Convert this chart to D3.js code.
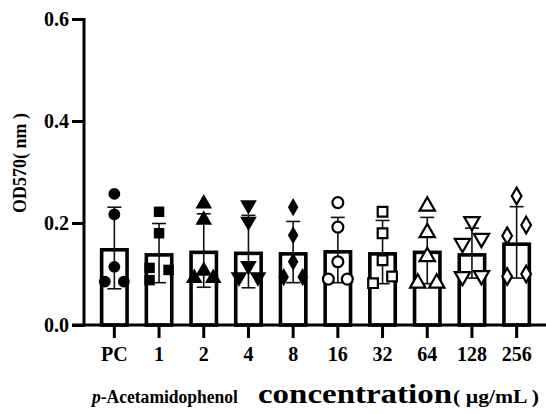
<!DOCTYPE html>
<html>
<head>
<meta charset="utf-8">
<script src="https://cdn.jsdelivr.net/npm/d3@7"></script>
<style>
  body { margin: 0; background: #fff; }
  svg { display: block; }
  text { font-family: "Liberation Serif", "Times New Roman", Tinos, "DejaVu Serif", serif; font-weight: bold; fill: #000; }
</style>
</head>
<body>
<svg width="546" height="414"></svg>
<script>
/* Daten */
const groups = ["PC", "1", "2", "4", "8", "16", "32", "64", "128", "256"];
const means  = [0.151, 0.141, 0.146, 0.144, 0.143, 0.147, 0.143, 0.146, 0.141, 0.162];
const sds    = [0.080, 0.058, 0.072, 0.071, 0.060, 0.064, 0.062, 0.065, 0.049, 0.070];
const yTicks = [0.0, 0.2, 0.4, 0.6];
const shapes = ["circle", "square", "triangle", "triangleDown", "diamond",
                "circle", "square", "triangle", "triangleDown", "diamond"];
const filled = [true, true, true, true, true, false, false, false, false, false];
// replicate points per group: [dx (-1 left, 0 mid, 1 right), value]
const points = [
  [[0, 0.257], [0, 0.217], [0, 0.114], [-1, 0.085], [1, 0.085]],
  [[0, 0.222], [0, 0.180], [-1, 0.112], [1, 0.108], [-1, 0.088]],
  [[0, 0.238], [0, 0.206], [0, 0.106], [-1, 0.092], [1, 0.092]],
  [[0, 0.235], [0, 0.203], [0, 0.116], [-1, 0.094], [1, 0.094]],
  [[0, 0.231], [0, 0.176], [0, 0.124], [-1, 0.094], [1, 0.094]],
  [[0, 0.240], [0, 0.192], [0, 0.124], [-1, 0.090], [1, 0.090]],
  [[0, 0.222], [0, 0.180], [0, 0.127], [-1, 0.082], [1, 0.095]],
  [[0, 0.233], [0, 0.181], [0, 0.134], [-1, 0.082], [1, 0.082]],
  [[0, 0.203], [-1, 0.160], [1, 0.170], [-1, 0.095], [1, 0.097]],
  [[0, 0.253], [1, 0.196], [-1, 0.175], [-1, 0.095], [1, 0.100]]
];

const svg = d3.select("svg");

const x = d3.scaleBand().domain(groups).range([92, 539]).padding(0);
const y = d3.scaleLinear().domain([0, 0.6]).range([325, 19]);

const barW = 29;
const barStroke = 3.6;
const spread = 9.5;

/* Balken (Rand nach innen) */
svg.selectAll(".bar")
  .data(groups)
  .enter().append("rect")
    .attr("class", "bar")
    .attr("x", d => x(d) + x.bandwidth() / 2 - barW / 2 + barStroke / 2)
    .attr("y", (d, i) => y(means[i]) + barStroke / 2)
    .attr("width", barW - barStroke)
    .attr("height", (d, i) => y(0) - y(means[i]) - barStroke / 2)
    .attr("fill", "#fff")
    .attr("stroke", "#000")
    .attr("stroke-width", barStroke);

/* Fehlerbalken */
const err = svg.selectAll(".err")
  .data(groups)
  .enter().append("g")
    .attr("class", "err")
    .attr("stroke", "#111")
    .attr("stroke-width", 1.6);

err.append("line")
  .attr("x1", d => x(d) + x.bandwidth() / 2)
  .attr("x2", d => x(d) + x.bandwidth() / 2)
  .attr("y1", (d, i) => y(means[i] + sds[i]))
  .attr("y2", (d, i) => y(means[i] - sds[i]));

[1, -1].forEach(s => {
  err.append("line")
    .attr("x1", d => x(d) + x.bandwidth() / 2 - 7)
    .attr("x2", d => x(d) + x.bandwidth() / 2 + 7)
    .attr("y1", (d, i) => y(means[i] + s * sds[i]))
    .attr("y2", (d, i) => y(means[i] + s * sds[i]));
});

/* Punkte */
const symbolType = {
  circle: d3.symbolCircle,
  square: d3.symbolSquare,
  triangle: d3.symbolTriangle,
  triangleDown: d3.symbolTriangle,
  diamond: d3.symbolDiamond
};
const symbolSize = { circle: 110, square: 110, triangle: 120, triangleDown: 120, diamond: 95 };

groups.forEach((g, i) => {
  const cx = x(g) + x.bandwidth() / 2;
  const sym = d3.symbol().type(symbolType[shapes[i]]).size(symbolSize[shapes[i]] * (filled[i] ? 1 : 0.85));
  svg.append("g")
    .selectAll("path")
    .data(points[i])
    .enter().append("path")
      .attr("d", sym)
      .attr("transform", d => {
        let t = "translate(" + (cx + d[0] * spread) + "," + y(d[1]) + ")";
        if (shapes[i] === "triangleDown") t += " rotate(180)";
        return t;
      })
      .attr("fill", filled[i] ? "#000" : "#fff")
      .attr("stroke", "#000")
      .attr("stroke-width", filled[i] ? 0 : 2.2);
});

/* Achsen */
const yAxis = svg.append("g")
  .attr("transform", "translate(84,0)")
  .call(d3.axisLeft(y).tickValues(yTicks).tickFormat(d3.format(".1f")).tickSize(12).tickPadding(3));

const xAxis = svg.append("g")
  .attr("transform", "translate(0,325)")
  .call(d3.axisBottom(x).tickSize(13).tickPadding(9));

[yAxis, xAxis].forEach(a => {
  a.select(".domain").remove();
  a.selectAll(".tick line").attr("stroke", "#000").attr("stroke-width", 3);
  a.selectAll("text").attr("font-size", 20).attr("font-family", null).attr("font-weight", "bold");
});
yAxis.selectAll("text").attr("dy", "0.34em");

svg.append("line")
  .attr("x1", 84).attr("x2", 84)
  .attr("y1", y(0.6) - 1).attr("y2", y(0) + 1.5)
  .attr("stroke", "#000").attr("stroke-width", 3);
svg.append("line")
  .attr("x1", 72).attr("x2", 546)
  .attr("y1", y(0)).attr("y2", y(0))
  .attr("stroke", "#000").attr("stroke-width", 3);

/* Achsentitel */
svg.append("text")
  .attr("transform", "translate(26,163) rotate(-90)")
  .attr("text-anchor", "middle")
  .attr("font-size", 18)
  .text("OD570( nm )");

const t1 = svg.append("text")
  .attr("x", 92).attr("y", 403)
  .attr("font-size", 18)
  .attr("textLength", 146).attr("lengthAdjust", "spacingAndGlyphs");
t1.append("tspan").attr("font-style", "italic").text("p");
t1.append("tspan").text("-Acetamidophenol");

svg.append("text")
  .attr("x", 258).attr("y", 403)
  .attr("font-size", 28)
  .attr("textLength", 194).attr("lengthAdjust", "spacingAndGlyphs")
  .text("concentration");

svg.append("text")
  .attr("x", 453).attr("y", 403)
  .attr("font-size", 18)
  .attr("textLength", 86).attr("lengthAdjust", "spacingAndGlyphs")
  .text("( \u00b5g/mL )");
</script>
</body>
</html>
